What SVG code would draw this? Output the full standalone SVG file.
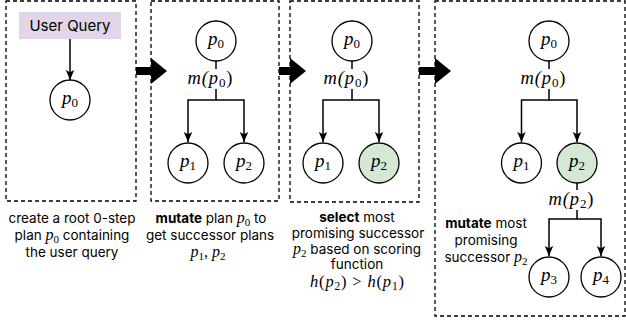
<svg xmlns="http://www.w3.org/2000/svg" width="626" height="326" viewBox="0 0 626 326">
<defs>
<style>
.box{fill:none;stroke:#000;stroke-width:1.3;stroke-dasharray:4 3}
.nd{fill:#fff;stroke:#000;stroke-width:1.3}
.sel{fill:#d5e8d4;stroke:#000;stroke-width:1.3}
.cn{fill:none;stroke:#000;stroke-width:1.5}
.big{fill:#000}
.cap{font-family:Inter,"Liberation Sans",sans-serif;font-size:13.5px;fill:#000;text-anchor:middle}
.b{font-weight:bold}
.mi{font-family:"Liberation Serif",serif;font-style:italic}
.mr{font-family:"Liberation Serif",serif;font-style:normal}
.lbl{font-family:"Liberation Serif",serif;font-style:italic;font-size:19px;text-anchor:middle;fill:#000}
.sb{font-style:normal;font-size:13px}
.elab{font-family:"Liberation Serif",serif;font-style:italic;font-size:18.5px;text-anchor:middle;fill:#000}
.uq{font-family:Inter,"Liberation Sans",sans-serif;font-size:15px;text-anchor:middle;fill:#000}
</style>
<marker id="ah" markerWidth="10" markerHeight="10" refX="10" refY="5" orient="auto" markerUnits="userSpaceOnUse">
<path d="M0,0.8 L10,5 L0,9.2 L2.2,5 z" fill="#000"/>
</marker>
</defs>

<g id="panels">
<rect class="box" x="6" y="1" width="130" height="200"/>
<rect class="box" x="151" y="1" width="128" height="200"/>
<rect class="box" x="290" y="1" width="129" height="201"/>
<rect class="box" x="435" y="1" width="190" height="315"/>
</g>

<g id="stage-arrows">
<polygon class="big" points="136,67 151,67 151,58 167,71 151,84 151,75 136,75"/>
<polygon class="big" points="279,67 290,67 290,58 306,71 290,84 290,75 279,75"/>
<polygon class="big" points="419,67 435,67 435,58 451,71 435,84 435,75 419,75"/>
</g>

<g id="connectors">
<path class="cn" d="M70,39 V80" marker-end="url(#ah)"/>
<path class="cn" d="M216,61 V69"/>
<path class="cn" d="M216,89 V100 H188 V142" marker-end="url(#ah)"/>
<path class="cn" d="M216,100 H244 V142" marker-end="url(#ah)"/>
<path class="cn" d="M352,61 V69"/>
<path class="cn" d="M352,89 V100 H323 V142" marker-end="url(#ah)"/>
<path class="cn" d="M352,100 H379 V142" marker-end="url(#ah)"/>
<path class="cn" d="M549,61 V69"/>
<path class="cn" d="M549,89 V100 H521.5 V142" marker-end="url(#ah)"/>
<path class="cn" d="M549,100 H577 V142" marker-end="url(#ah)"/>
<path class="cn" d="M577,183 V190"/>
<path class="cn" d="M577,210 V219 H549 V256" marker-end="url(#ah)"/>
<path class="cn" d="M577,219 H601 V256" marker-end="url(#ah)"/>
</g>

<g id="edge-labels">
<text class="elab" x="210" y="84" textLength="45">m(p<tspan class="mr sb" dy="3">0</tspan><tspan dy="-3" class="mr">)</tspan></text>
<text class="elab" x="346" y="84" textLength="45">m(p<tspan class="mr sb" dy="3">0</tspan><tspan dy="-3" class="mr">)</tspan></text>
<text class="elab" x="543" y="84" textLength="45">m(p<tspan class="mr sb" dy="3">0</tspan><tspan dy="-3" class="mr">)</tspan></text>
<text class="elab" x="571" y="205" textLength="45">m(p<tspan class="mr sb" dy="3">2</tspan><tspan dy="-3" class="mr">)</tspan></text>
</g>

<g id="user-query">
<rect x="19" y="12" width="102" height="27" fill="#e1d5e7"/>
<text class="uq" x="70" y="31">User Query</text>
</g>

<g id="p1-root">
<circle class="nd" cx="70" cy="100" r="20"/>
<text class="lbl" x="70" y="104">p<tspan class="sb" dy="3">0</tspan></text>
</g>

<g id="p2-root">
<circle class="nd" cx="216" cy="41" r="20"/>
<text class="lbl" x="216" y="45">p<tspan class="sb" dy="3">0</tspan></text>
</g>
<g id="p2-c1">
<circle class="nd" cx="188" cy="163" r="20"/>
<text class="lbl" x="188" y="167">p<tspan class="sb" dy="3">1</tspan></text>
</g>
<g id="p2-c2">
<circle class="nd" cx="244" cy="163" r="20"/>
<text class="lbl" x="244" y="167">p<tspan class="sb" dy="3">2</tspan></text>
</g>

<g id="p3-root">
<circle class="nd" cx="352" cy="41" r="20"/>
<text class="lbl" x="352" y="45">p<tspan class="sb" dy="3">0</tspan></text>
</g>
<g id="p3-c1">
<circle class="nd" cx="323" cy="163" r="20"/>
<text class="lbl" x="323" y="167">p<tspan class="sb" dy="3">1</tspan></text>
</g>
<g id="p3-c2">
<circle class="sel" cx="379" cy="163" r="20"/>
<text class="lbl" x="379" y="167">p<tspan class="sb" dy="3">2</tspan></text>
</g>

<g id="p4-root">
<circle class="nd" cx="549" cy="41" r="20"/>
<text class="lbl" x="549" y="45">p<tspan class="sb" dy="3">0</tspan></text>
</g>
<g id="p4-c1">
<circle class="nd" cx="521.5" cy="163" r="20"/>
<text class="lbl" x="521.5" y="167">p<tspan class="sb" dy="3">1</tspan></text>
</g>
<g id="p4-c2">
<circle class="sel" cx="577" cy="163" r="20"/>
<text class="lbl" x="577" y="167">p<tspan class="sb" dy="3">2</tspan></text>
</g>
<g id="p4-c3">
<circle class="nd" cx="549" cy="277" r="20"/>
<text class="lbl" x="549" y="281">p<tspan class="sb" dy="3">3</tspan></text>
</g>
<g id="p4-c4">
<circle class="nd" cx="601" cy="277" r="20"/>
<text class="lbl" x="601" y="281">p<tspan class="sb" dy="3">4</tspan></text>
</g>

<g id="captions">
<text class="cap" x="72" y="223">create a root 0-step</text>
<text class="cap" x="72" y="240">plan <tspan class="mi" font-size="16">p</tspan><tspan class="mr" font-size="11" dy="3">0</tspan><tspan dy="-3"> containing</tspan></text>
<text class="cap" x="72" y="257">the user query</text>

<text class="cap" x="211" y="223"><tspan class="b">mutate</tspan> plan <tspan class="mi" font-size="16">p</tspan><tspan class="mr" font-size="11" dy="3">0</tspan><tspan dy="-3"> to</tspan></text>
<text class="cap" x="210" y="240">get successor plans</text>
<text class="cap" x="208" y="257"><tspan class="mi" font-size="16">p</tspan><tspan class="mr" font-size="11" dy="3">1</tspan><tspan class="mr" font-size="16" dy="-3">, </tspan><tspan class="mi" font-size="16">p</tspan><tspan class="mr" font-size="11" dy="3">2</tspan></text>

<text class="cap" x="357" y="221.5"><tspan class="b">select</tspan> most</text>
<text class="cap" x="358" y="237.5">promising successor</text>
<text class="cap" x="357" y="253.5"><tspan class="mi" font-size="16">p</tspan><tspan class="mr" font-size="11" dy="3">2</tspan><tspan dy="-3"> based on scoring</tspan></text>
<text class="cap" x="357" y="268.5">function</text>
<text class="cap" x="357" y="287" textLength="94"><tspan class="mi" font-size="16.5">h</tspan><tspan class="mr" font-size="16.5">(</tspan><tspan class="mi" font-size="16.5">p</tspan><tspan class="mr" font-size="11.5" dy="3">2</tspan><tspan class="mr" font-size="16.5" dy="-3">) &gt; </tspan><tspan class="mi" font-size="16.5">h</tspan><tspan class="mr" font-size="16.5">(</tspan><tspan class="mi" font-size="16.5">p</tspan><tspan class="mr" font-size="11.5" dy="3">1</tspan><tspan class="mr" font-size="16.5" dy="-3">)</tspan></text>

<text class="cap" x="486" y="228"><tspan class="b">mutate</tspan> most</text>
<text class="cap" x="486" y="245">promising</text>
<text class="cap" x="486" y="262">successor <tspan class="mi" font-size="16">p</tspan><tspan class="mr" font-size="11" dy="3">2</tspan></text>
</g>
</svg>
